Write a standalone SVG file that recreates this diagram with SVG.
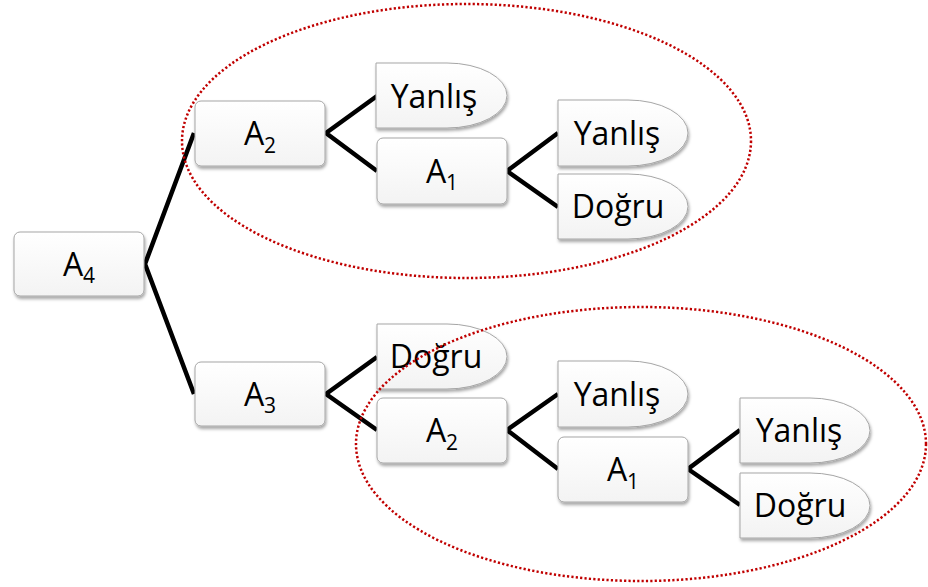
<svg xmlns="http://www.w3.org/2000/svg" width="928" height="587" viewBox="0 0 928 587">
<style>
.box{fill:url(#g);stroke:#a6a6a6;stroke-width:1;filter:url(#sh)}
.t{font-family:"Open Sans","Noto Sans","Liberation Sans",sans-serif;font-size:32px;fill:#000;text-anchor:middle}
.sub{font-size:21px}
.conn{fill:none;stroke:#000;stroke-width:4.5;stroke-linejoin:miter}
.ell{fill:none;stroke:#c00000;stroke-width:2.5;stroke-dasharray:2.2 2.2}
</style>
<defs>
<linearGradient id="g" x1="0" y1="0" x2="0" y2="1">
<stop offset="0" stop-color="#ffffff"/>
<stop offset="1" stop-color="#f3f3f3"/>
</linearGradient>
<filter id="sh" x="-10%" y="-10%" width="130%" height="140%">
<feDropShadow dx="1" dy="2.5" stdDeviation="1.5" flood-color="#000" flood-opacity="0.35"/>
</filter>
</defs>
<rect width="928" height="587" fill="#fff"/>
<g id="connectors">
<path class="conn" d="M194,133 L145,264 L194,394"/>
<path class="conn" d="M377,96 L326,133 L377,171"/>
<path class="conn" d="M558,133 L507,171 L558,207"/>
<path class="conn" d="M377,357 L326,394 L377,430"/>
<path class="conn" d="M558,394 L507,430 L558,469"/>
<path class="conn" d="M740,430 L688,469 L740,505"/>
</g>
<g id="n-A4"><rect class="box" x="14" y="232" width="130" height="64" rx="6"/><text class="t" x="79" y="275.5">A<tspan class="sub" dy="7.5">4</tspan></text></g>
<g id="n-A2-top"><rect class="box" x="195" y="101" width="130" height="65" rx="6"/><text class="t" x="260" y="145">A<tspan class="sub" dy="7.5">2</tspan></text></g>
<g id="n-Yanlis-1"><path class="box" d="M376,63 H447 A60,32.5 0 0 1 447,128 H376 Z"/><text class="t" x="434" y="107.5">Yanlış</text></g>
<g id="n-A1-top"><rect class="box" x="377" y="138" width="130" height="66" rx="6"/><text class="t" x="442" y="182.5">A<tspan class="sub" dy="7.5">1</tspan></text></g>
<g id="n-Yanlis-2"><path class="box" d="M558,100 H628 A60,33 0 0 1 628,166 H558 Z"/><text class="t" x="617" y="144.5">Yanlış</text></g>
<g id="n-Dogru-1"><path class="box" d="M558,174 H628 A60,32.5 0 0 1 628,239 H558 Z"/><text class="t" x="618" y="218">Doğru</text></g>
<g id="n-A3"><rect class="box" x="195" y="362" width="130" height="64" rx="6"/><text class="t" x="260" y="405.5">A<tspan class="sub" dy="7.5">3</tspan></text></g>
<g id="n-Dogru-2"><path class="box" d="M377,324 H447 A60,32.5 0 0 1 447,389 H377 Z"/><text class="t" x="436" y="368">Doğru</text></g>
<g id="n-A2-bottom"><rect class="box" x="377" y="398" width="130" height="65" rx="6"/><text class="t" x="442" y="442">A<tspan class="sub" dy="7.5">2</tspan></text></g>
<g id="n-Yanlis-3"><path class="box" d="M558,361 H628 A60,33 0 0 1 628,427 H558 Z"/><text class="t" x="617" y="405.5">Yanlış</text></g>
<g id="n-A1-bottom"><rect class="box" x="558" y="437" width="130" height="65" rx="6"/><text class="t" x="623" y="481">A<tspan class="sub" dy="7.5">1</tspan></text></g>
<g id="n-Yanlis-4"><path class="box" d="M740,398 H810 A60,32.5 0 0 1 810,463 H740 Z"/><text class="t" x="799" y="442">Yanlış</text></g>
<g id="n-Dogru-3"><path class="box" d="M740,473 H810 A60,32.5 0 0 1 810,538 H740 Z"/><text class="t" x="800" y="517">Doğru</text></g>
<g id="groups">
<ellipse class="ell" cx="466.5" cy="141" rx="284.5" ry="137"/>
<ellipse class="ell" cx="641" cy="444" rx="285" ry="137"/>
</g>
</svg>
